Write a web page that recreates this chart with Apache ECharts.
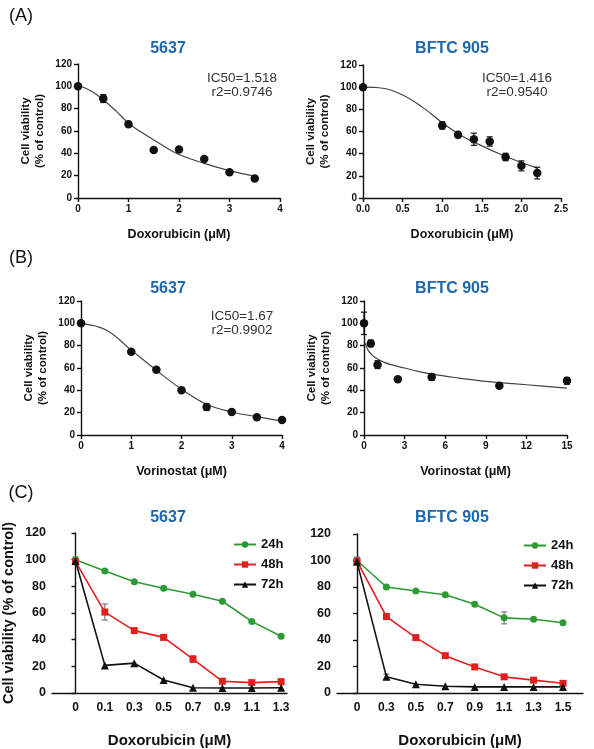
<!DOCTYPE html>
<html>
<head>
<meta charset="utf-8">
<script src="https://cdn.jsdelivr.net/npm/echarts@6/dist/echarts.min.js"></script>
<style>
    html, body { margin: 0; padding: 0; background: #fff; }
    #main { width: 594px; height: 749px; }
</style>
</head>
<body>
<div id="main"></div>
<script>
//(A) 5637 doxorubicin
var a1X = [0, 0.5, 1, 1.5, 2, 2.5, 3, 3.5];
var a1Y = [100, 89, 66, 43, 43.5, 35, 23, 17.5];
var a1Err = [1, 3.5, 1, 1, 1, 1, 1, 1];
var a1FitX = [0, 0.25, 0.5, 0.75, 1, 1.25, 1.5, 1.75, 2, 2.5, 3, 3.5];
var a1FitY = [101, 96, 88, 78, 67, 59, 52, 45, 39, 31, 24.5, 19.5];

//(A) BFTC 905 doxorubicin
var a2X = [0, 1, 1.2, 1.4, 1.6, 1.8, 2.0, 2.2];
var a2Y = [100, 65.5, 57, 53, 51, 37, 29, 22.5];
var a2Err = [1, 3.3, 2.5, 5.5, 4.2, 3.3, 4.5, 5.3];
var a2FitX = [0, 0.25, 0.5, 0.75, 1, 1.25, 1.5, 1.75, 2, 2.2];
var a2FitY = [100, 99, 93, 82, 68, 56, 47, 39, 32, 27];

//(B) 5637 vorinostat
var b1X = [0, 1, 1.5, 2, 2.5, 3, 3.5, 4];
var b1Y = [100, 74.5, 58.5, 40, 25, 20.5, 16, 13.5];
var b1Err = [1, 1, 1, 1, 3, 1, 1, 1];
var b1FitX = [0, 0.5, 1, 1.5, 2, 2.5, 3, 3.5, 4];
var b1FitY = [100, 94, 76, 58, 41, 27.5, 20.6, 16.4, 12.5];

//(B) BFTC 905 vorinostat
var b2X = [0, 0.5, 1, 2.5, 5, 10, 15];
var b2Y = [100, 82, 63, 50, 52, 44, 48.5];
var b2Err = [10, 3, 3.5, 1, 3, 1, 3];
var b2FitX = [0.1, 0.3, 0.6, 1, 1.5, 2, 3, 4, 5, 7, 9, 11, 13, 15];
var b2FitY = [82, 76, 71.5, 68, 65, 63, 60, 57, 54.5, 51, 48, 46, 44, 42];

//(C) time course
var hours = ['24h', '48h', '72h'];
var c1Cats = ['0', '0.1', '0.3', '0.5', '0.7', '0.9', '1.1', '1.3'];
var c1Y24 = [100, 91.5, 83.5, 78.5, 74, 68.8, 53.7, 42.5];
var c1Y48 = [98.5, 60.7, 46.8, 41.7, 25.4, 8.8, 7.8, 8.5];
var c1Y72 = [99, 20.7, 22.4, 9.8, 3.9, 3.7, 3.7, 3.9];
var c1E24 = [2, 0, 0, 0, 0, 0, 0, 0];
var c1E48 = [0, 6, 0, 0, 2.5, 0, 0, 0];
var c1E72 = [0, 0, 0, 0, 0, 0, 0, 0];

var c2Cats = ['0', '0.3', '0.5', '0.7', '0.9', '1.1', '1.3', '1.5'];
var c2Y24 = [100, 80, 77, 74.2, 67, 56.7, 55.7, 53];
var c2Y48 = [99.5, 57.7, 41.8, 28.2, 19.7, 12.2, 9.7, 7.3];
var c2Y72 = [99, 12.2, 6.6, 5.1, 4.6, 4.6, 4.6, 4.6];
var c2E24 = [2.5, 1, 0, 0, 0, 4.5, 0, 0];
var c2E48 = [0, 0, 0, 0, 0, 0, 0, 0];
var c2E72 = [0, 2, 0, 0, 0, 0, 0, 0];

var FONT = 'Liberation Sans, Arial, sans-serif';
var BLUE = '#1c67b1';
var colors24 = '#2e9a35', colors48 = '#e0201f', colors72 = '#111';

function zip(xs, ys, es) {
    var out = [];
    for (var i = 0; i < xs.length; i++) {
        out.push(es ? [xs[i], ys[i], es[i]] : [xs[i], ys[i]]);
    }
    return out;
}

function idx(ys, es) {
    var out = [];
    for (var i = 0; i < ys.length; i++) {
        out.push(es ? [i, ys[i], es[i]] : [i, ys[i]]);
    }
    return out;
}

//误差线
function errRender(params, api) {
    var x = api.value(0), y = api.value(1), e = api.value(2);
    if (!e) return;
    var top = api.coord([x, y + e]);
    var bot = api.coord([x, y - e]);
    var w = 3;
    var st = {stroke: api.visual('color'), lineWidth: 1.2};
    return {
        type: 'group',
        children: [
            {type: 'line', shape: {x1: top[0], y1: top[1], x2: bot[0], y2: bot[1]}, style: st},
            {type: 'line', shape: {x1: top[0] - w, y1: top[1], x2: top[0] + w, y2: top[1]}, style: st},
            {type: 'line', shape: {x1: bot[0] - w, y1: bot[1], x2: bot[0] + w, y2: bot[1]}, style: st}
        ]
    };
}

var axisLine = {lineStyle: {color: '#111', width: 1.4}};
var axisTick = {length: 4, lineStyle: {color: '#111', width: 1.4}};

function xVal(g, min, max, interval, name, dec) {
    return {
        type: 'value', gridIndex: g, min: min, max: max, interval: interval,
        name: name, nameLocation: 'middle', nameGap: 30,
        nameTextStyle: {fontFamily: FONT, fontWeight: 'bold', fontSize: 12.5, color: '#111'},
        axisLine: axisLine, axisTick: axisTick, splitLine: {show: false},
        axisLabel: {
            fontFamily: FONT, fontWeight: 'bold', fontSize: 10, color: '#111', margin: 6,
            formatter: function (v) { return dec ? v.toFixed(dec) : String(v); }
        }
    };
}

function yVal(g, name, gap) {
    return {
        type: 'value', gridIndex: g, min: 0, max: 120, interval: 20,
        name: name, nameLocation: 'middle', nameGap: gap,
        nameTextStyle: {fontFamily: FONT, fontWeight: 'bold', fontSize: 11.5, color: '#111', lineHeight: 14},
        axisLine: {show: true, lineStyle: axisLine.lineStyle}, axisTick: {show: true, length: 4, lineStyle: axisTick.lineStyle},
        splitLine: {show: false},
        axisLabel: {fontFamily: FONT, fontWeight: 'bold', fontSize: 10, color: '#111', margin: 6}
    };
}

function xCat(g, min, max, cats) {
    return {
        type: 'value', gridIndex: g, min: min, max: max,
        name: 'Doxorubicin (μM)', nameLocation: 'middle', nameGap: 40,
        nameTextStyle: {fontFamily: FONT, fontWeight: 'bold', fontSize: 15, color: '#111'},
        axisLine: axisLine, axisTick: {show: false}, splitLine: {show: false},
        axisLabel: {
            fontFamily: FONT, fontWeight: 'bold', fontSize: 12, color: '#111', margin: 9,
            customValues: [0, 1, 2, 3, 4, 5, 6, 7],
            formatter: function (v) { return cats[Math.round(v)]; }
        }
    };
}

function yC(g, name) {
    var y = yVal(g, name, 36);
    y.nameTextStyle = {fontFamily: FONT, fontWeight: 'bold', fontSize: 14.5, color: '#111'};
    y.axisLabel = {fontFamily: FONT, fontWeight: 'bold', fontSize: 12.5, color: '#111', margin: 6};
    return y;
}

function fitSeries(g, xs, ys) {
    return {
        type: 'line', xAxisIndex: g, yAxisIndex: g, data: zip(xs, ys), smooth: 0.4,
        showSymbol: false, symbol: 'none', lineStyle: {color: '#444', width: 1.2}, z: 2, silent: true
    };
}

function dotSeries(g, xs, ys) {
    return {
        type: 'scatter', xAxisIndex: g, yAxisIndex: g, data: zip(xs, ys),
        symbol: 'circle', symbolSize: 8.5, itemStyle: {color: '#111', opacity: 1}, z: 4
    };
}

function errSeries(g, data, color) {
    return {
        type: 'custom', xAxisIndex: g, yAxisIndex: g, data: data, renderItem: errRender,
        itemStyle: {color: color}, encode: {x: 0, y: 1}, z: 3, silent: true
    };
}

function timeSeries(g, name, ys, symbol, size, color) {
    return {
        name: name, type: 'line', xAxisIndex: g, yAxisIndex: g, data: idx(ys),
        symbol: symbol, symbolSize: size, lineStyle: {color: color, width: 1.6},
        itemStyle: {color: color, opacity: 1}, z: 4
    };
}

function txt(x, y, text, font, color) {
    return {
        type: 'text', x: x, y: y, z: 10,
        style: {text: text, font: font, fill: color || '#111', align: 'center', verticalAlign: 'middle', lineHeight: 14}
    };
}

var titleFont = 'bold 16px ' + FONT;
var noteFont = '13.5px ' + FONT;
var panelFont = '18px ' + FONT;

var chart = echarts.init(document.getElementById('main'));
var option = {
    animation: false,
    backgroundColor: '#fff',
    grid: [
        {left: 78, top: 64, width: 202, height: 134},
        {left: 363, top: 65, width: 198, height: 133},
        {left: 81, top: 301, width: 201, height: 134},
        {left: 364, top: 301, width: 203, height: 134},
        {left: 50, top: 533, width: 237, height: 164},
        {left: 337, top: 534, width: 246, height: 164}
    ],
    xAxis: [
        xVal(0, 0, 4, 1, 'Doxorubicin (μM)', 0),
        xVal(1, 0, 2.5, 0.5, 'Doxorubicin (μM)', 1),
        xVal(2, 0, 4, 1, 'Vorinostat (μM)', 0),
        xVal(3, 0, 15, 3, 'Vorinostat (μM)', 0),
        xCat(4, -0.8, 7.2, c1Cats),
        xCat(5, -0.68, 7.68, c2Cats)
    ],
    yAxis: [
        yVal(0, 'Cell viability\n(% of control)', 31),
        yVal(1, 'Cell viability\n(% of control)', 31),
        yVal(2, 'Cell viability\n(% of control)', 31),
        yVal(3, 'Cell viability\n(% of control)', 31),
        yC(4, 'Cell viability (% of control)'),
        yC(5, '')
    ],
    legend: [
        {data: hours, orient: 'vertical', left: 228, top: 533, itemWidth: 22, itemHeight: 8, itemGap: 7,
            textStyle: {fontFamily: FONT, fontWeight: 'bold', fontSize: 13, color: '#111'}},
        {data: hours, orient: 'vertical', left: 518, top: 534, itemWidth: 22, itemHeight: 8, itemGap: 7,
            textStyle: {fontFamily: FONT, fontWeight: 'bold', fontSize: 13, color: '#111'}}
    ],
    graphic: [
        txt(21, 16, '(A)', panelFont),
        txt(21, 258, '(B)', panelFont),
        txt(21, 493, '(C)', panelFont),
        txt(168, 49, '5637', titleFont, BLUE),
        txt(452, 49, 'BFTC 905', titleFont, BLUE),
        txt(168, 289, '5637', titleFont, BLUE),
        txt(452, 289, 'BFTC 905', titleFont, BLUE),
        txt(168, 518, '5637', titleFont, BLUE),
        txt(452, 518, 'BFTC 905', titleFont, BLUE),
        txt(242, 85, 'IC50=1.518\nr2=0.9746', noteFont, '#333'),
        txt(517, 85, 'IC50=1.416\nr2=0.9540', noteFont, '#333'),
        txt(242, 323, 'IC50=1.67\nr2=0.9902', noteFont, '#333')
    ],
    series: [
        fitSeries(0, a1FitX, a1FitY), errSeries(0, zip(a1X, a1Y, a1Err), '#111'), dotSeries(0, a1X, a1Y),
        fitSeries(1, a2FitX, a2FitY), errSeries(1, zip(a2X, a2Y, a2Err), '#111'), dotSeries(1, a2X, a2Y),
        fitSeries(2, b1FitX, b1FitY), errSeries(2, zip(b1X, b1Y, b1Err), '#111'), dotSeries(2, b1X, b1Y),
        fitSeries(3, b2FitX, b2FitY), errSeries(3, zip(b2X, b2Y, b2Err), '#111'), dotSeries(3, b2X, b2Y),

        errSeries(4, idx(c1Y24, c1E24), '#777'), errSeries(4, idx(c1Y48, c1E48), '#777'), errSeries(4, idx(c1Y72, c1E72), '#777'),
        timeSeries(4, '24h', c1Y24, 'circle', 7, colors24),
        timeSeries(4, '48h', c1Y48, 'rect', 7, colors48),
        timeSeries(4, '72h', c1Y72, 'triangle', 8, colors72),

        errSeries(5, idx(c2Y24, c2E24), '#777'), errSeries(5, idx(c2Y48, c2E48), '#777'), errSeries(5, idx(c2Y72, c2E72), '#777'),
        timeSeries(5, '24h', c2Y24, 'circle', 7, colors24),
        timeSeries(5, '48h', c2Y48, 'rect', 7, colors48),
        timeSeries(5, '72h', c2Y72, 'triangle', 8, colors72)
    ]
};
chart.setOption(option);
</script>
</body>
</html>
